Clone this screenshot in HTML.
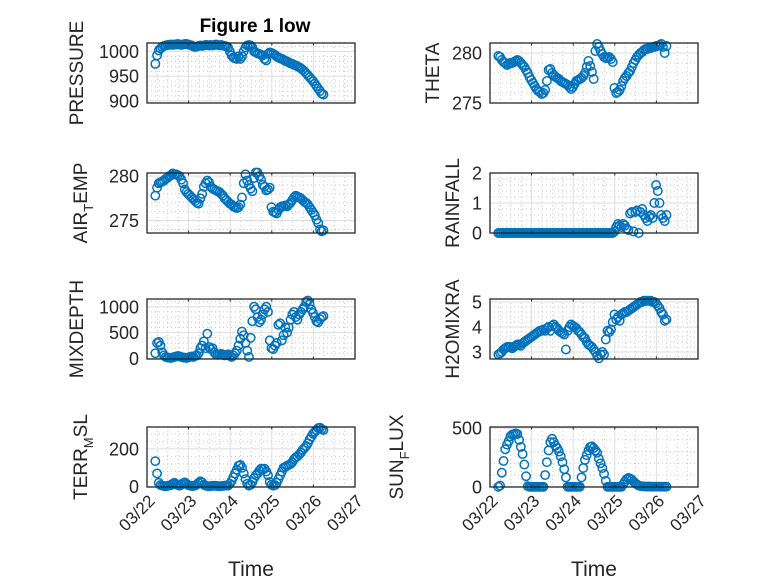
<!DOCTYPE html>
<html><head><meta charset="utf-8">
<style>
html,body{margin:0;padding:0;background:#fff;}
svg{display:block;font-family:"Liberation Sans","DejaVu Sans",sans-serif;}
</style></head>
<body>
<svg id="fig" width="778" height="583" viewBox="0 0 778 583" xmlns="http://www.w3.org/2000/svg">
<rect width="778" height="583" fill="#fff"/>
<text x="255" y="32" text-anchor="middle" font-size="19" font-weight="bold" fill="#000">Figure 1 low</text>
<text x="251" y="576" text-anchor="middle" font-size="21" fill="#262626">Time</text>
<text x="594" y="576" text-anchor="middle" font-size="21" fill="#262626">Time</text>
</svg>
<script>
const xTickLabels = ["03/22","03/23","03/24","03/25","03/26","03/27"];
const xTickValues = [22,23,24,25,26,27];
const tStart = 22.2;
const tStep = 1/24;

const pressure = [975,992,1002,1006,1009,
1011,1012,1013,1013,1014,1013,1014,1014,1015,1014,1013,1014,1015,1015,1014,1013,1012,1010,1009,1010,1011,1012,1011,1012,1013,1013,1012,1013,1012,1013,1014,1013,1012,1013,1012,1011,1010,1008,
1000,992,988,986,985,990,985,990,1000,1008,
1012,1013,1012,1008,
1000,998,996,995,993,992,985,982,
995,998,997,995,993,990,
988,986,985,983,981,980,978,976,975,973,972,970,968,966,963,960,956,952,948,944,940,935,930,925,920,915,913];

const airTemp = [277.8,278.7,279.2,279.3,279.4,279.5,279.7,279.8,280.0,280.1,280.3,280.2,280.2,280.1,280.0,279.6,279.2,278.5,278.2,278.0,
277.8,277.6,277.4,277.2,277.0,276.9,277.5,278.0,278.8,279.2,279.5,279.3,278.8,278.6,278.5,278.4,278.3,278.2,278.0,277.8,
277.5,277.3,277.1,276.9,276.8,276.6,276.5,276.4,276.5,276.8,277.6,279.2,280.2,279.5,279.0,278.6,278.3,279.8,280.4,280.4,
280.0,279.6,279.0,278.8,278.4,278.5,278.7,276.5,276.0,275.9,275.8,276.2,276.5,276.6,276.6,276.7,276.6,276.8,277.0,277.3,
277.6,277.8,277.7,277.6,277.5,277.3,277.1,277.0,276.8,276.5,276.2,275.9,275.6,275.1,274.7,274.0,273.8,273.9];

const mixDepth = [100,300,320,250,120,60,30,
20,15,10,20,30,40,50,40,30,20,15,10,20,30,40,
30,50,60,100,200,250,330,200,480,220,180,200,120,80,
70,80,90,70,60,70,80,50,
30,60,100,150,250,380,520,450,300,150,30,400,720,1000,950,800,700,750,850,950,1000,900,
350,200,180,250,300,650,680,350,450,600,500,600,750,850,900,800,750,850,900,950,1000,1100,1120,1050,950,880,800,720,700,760,800,820];

const terrMsl = [135,70,20,8,
5,3,2,4,6,8,15,20,12,8,5,10,18,22,15,8,5,3,4,6,12,20,28,22,10,5,3,2,3,4,5,4,3,2,3,4,5,6,5,15,
30,50,70,90,110,115,100,70,40,15,5,10,25,45,60,70,85,95,90,95,80,60,25,10,5,8,20,40,60,80,
100,105,110,115,120,130,145,155,160,170,180,195,205,215,230,250,265,280,290,300,310,312,305,300];

const theta = [279.7,279.6,279.3,279.1,279.0,278.8,278.9,279.0,279.0,279.1,279.2,279.3,279.2,279.0,278.8,278.6,278.3,278.0,277.6,277.3,
277.0,276.7,276.4,276.2,276.1,275.9,276.0,276.3,277.2,278.3,278.4,278.0,277.8,277.6,277.5,277.4,277.2,277.1,277.0,276.9,
276.8,276.6,276.4,276.6,276.9,277.2,277.3,277.4,277.5,277.7,278.0,278.6,279.2,278.7,278.1,277.4,280.2,280.9,280.6,280.2,
279.9,279.6,279.5,279.5,279.6,279.4,279.1,276.5,276.0,276.1,276.3,276.7,277.2,277.5,277.7,278.0,278.2,278.6,279.0,279.3,
279.6,279.8,280.0,280.1,280.3,280.4,280.4,280.5,280.5,280.6,280.6,280.7,280.7,280.8,280.9,280.6,280.0,280.7];

const rainfall = [0,0,0,0,0,0,0,0,0,0,0,0,0,0,0,0,0,0,0,0,
0,0,0,0,0,0,0,0,0,0,0,0,0,0,0,0,0,0,0,0,
0,0,0,0,0,0,0,0,0,0,0,0,0,0,0,0,0,0,0,0,
0,0,0,0,0,0,0,0.05,0.2,0.3,0.25,0.2,0.3,0.25,0.15,0.1,0.65,0.7,0.05,0.7,
0.75,0,0.7,0.8,0.6,0.5,0.4,0.55,0.6,0.5,1.0,1.6,1.4,1.0,0.6,0.5,0.4,0.6];

const h2oMixRatio = [2.9,2.95,3.0,3.1,3.15,3.2,3.2,3.2,3.15,3.2,3.25,3.3,3.3,3.25,3.35,3.4,3.45,3.5,3.55,3.6,
3.65,3.7,3.75,3.8,3.85,3.85,3.9,3.85,3.95,4.0,3.85,4.05,4.1,4.0,3.95,3.85,3.8,3.75,3.7,3.1,
3.85,4.0,4.1,4.05,4.0,3.95,3.85,3.8,3.7,3.6,3.55,3.4,3.3,3.25,3.2,3.1,3.0,2.85,2.75,2.9,
3.0,2.9,3.5,3.85,3.8,3.9,4.2,4.5,4.3,4.4,4.25,4.5,4.55,4.6,4.6,4.65,4.7,4.75,4.8,4.85,
4.9,4.95,5.0,5.0,5.05,5.05,5.05,5.05,5.05,5.0,5.0,4.95,4.85,4.75,4.6,4.5,4.25,4.3];

const sunFlux = [0,10,120,220,320,360,390,430,445,450,455,450,400,340,280,190,90,5,
0,0,0,0,0,0,0,0,0,
100,210,310,380,410,380,350,330,300,260,210,150,80,0,
0,0,0,0,0,0,0,
80,160,230,270,310,340,345,330,310,290,240,200,160,110,50,0,
0,0,0,0,0,0,0,0,
20,45,65,75,70,60,45,30,20,10,5,
5,3,2,2,2,1,1,1,1,1,1,1,1,1,1];

const panels = [
 {key:'pressure',data:pressure,label:['PRESSURE'],x0:147,y0:43,ymin:896,ymax:1017,ticks:[900,950,1000],minor:10,lx:76,bottom:false},
 {key:'theta',data:theta,label:['THETA'],x0:490,y0:43,ymin:275,ymax:281,ticks:[275,280],minor:1,lx:432,bottom:false},
 {key:'air-temp',data:airTemp,label:['AIR','T','EMP'],x0:147,y0:173,ymin:273.6,ymax:280.35,ticks:[275,280],minor:1,lx:80,bottom:false},
 {key:'rainfall',data:rainfall,label:['RAINFALL'],x0:490,y0:173,ymin:0,ymax:2,ticks:[0,1,2],minor:0.2,lx:452,bottom:false},
 {key:'mixdepth',data:mixDepth,label:['MIXDEPTH'],x0:147,y0:299,ymin:-10,ymax:1150,ticks:[0,500,1000],minor:100,lx:76,bottom:false},
 {key:'h2omixra',data:h2oMixRatio,label:['H2OMIXRA'],x0:490,y0:299,ymin:2.72,ymax:5.12,ticks:[3,4,5],minor:0.2,lx:452,bottom:false},
 {key:'terr-msl',data:terrMsl,label:['TERR','M','SL'],x0:147,y0:427,ymin:-2,ymax:316,ticks:[0,200],minor:40,lx:80,bottom:true},
 {key:'sun-flux',data:sunFlux,label:['SUN','F','LUX'],x0:490,y0:427,ymin:-2,ymax:510,ticks:[0,500],minor:100,lx:396,bottom:true}
];
const W=208,H=60;
const NS='http://www.w3.org/2000/svg';
const svg=document.getElementById('fig');
function mk(tag,attrs,parent){const e=document.createElementNS(NS,tag);for(const k in attrs)e.setAttribute(k,attrs[k]);(parent||svg).appendChild(e);return e;}

panels.forEach(p=>{
  const g=mk('g',{});
  
  
  const xs=v=>p.x0+(v-22)/(27-22)*W;
  const ys=v=>p.y0+H-(v-p.ymin)/(p.ymax-p.ymin)*H;
  mk('rect',{x:p.x0,y:p.y0,width:W,height:H,fill:'#fff'},g);
  for(let d=22;d<27;d+=0.25){ if(Math.abs(d-Math.round(d))<1e-6) continue;
    mk('line',{x1:xs(d),x2:xs(d),y1:p.y0,y2:p.y0+H,stroke:'#c8c8c8','stroke-width':1,'stroke-dasharray':'1,3'},g);}
  const s=Math.ceil(p.ymin/p.minor);
  for(let k=s;k*p.minor<=p.ymax;k++){const v=k*p.minor;
    if(p.ticks.some(t=>Math.abs(t-v)<1e-6))continue;
    mk('line',{x1:p.x0,x2:p.x0+W,y1:ys(v),y2:ys(v),stroke:'#c8c8c8','stroke-width':1,'stroke-dasharray':'1,3'},g);}
  xTickValues.forEach(d=>{mk('line',{x1:xs(d),x2:xs(d),y1:p.y0,y2:p.y0+H,stroke:'#dedede','stroke-width':1},g);});
  p.ticks.forEach(v=>{mk('line',{x1:p.x0,x2:p.x0+W,y1:ys(v),y2:ys(v),stroke:'#dedede','stroke-width':1},g);
    const t=mk('text',{x:p.x0-8,y:ys(v)+6.5,'text-anchor':'end','font-size':18,fill:'#262626'},g);
    t.textContent=String(v);
    
    
  });
  const pg=mk('g',{fill:'none',stroke:'#0072BD','stroke-width':1.5},g);
  
  
  p.data.forEach((v,i)=>{
    const c=mk('circle',{cx:xs(tStart+i*tStep),cy:ys(v),r:4.2},pg);
    
    
  });
  mk('rect',{x:p.x0,y:p.y0,width:W,height:H,fill:'none',stroke:'#262626','stroke-width':1.3},g);
  xTickValues.forEach(d=>{
    mk('line',{x1:xs(d),x2:xs(d),y1:p.y0+H,y2:p.y0+H-2.5,stroke:'#262626'},g);
    mk('line',{x1:xs(d),x2:xs(d),y1:p.y0,y2:p.y0+2.5,stroke:'#262626'},g);
  });
  const cy=p.y0+H/2;
  const lab=mk('text',{x:0,y:0,'text-anchor':'middle','font-size':19,fill:'#262626',transform:`translate(${p.lx+7},${cy}) rotate(-90)`},g);
  
  
  if(p.label.length===1){lab.textContent=p.label[0];}
  else{
    const a=mk('tspan',{},lab);a.textContent=p.label[0];
    const b=mk('tspan',{dy:6,'font-size':13},lab);b.textContent=p.label[1];
    const c=mk('tspan',{dy:-6},lab);c.textContent=p.label[2];
  }
  if(p.bottom){
    xTickValues.forEach((d,i)=>{
      const t=mk('text',{x:0,y:0,'text-anchor':'end','font-size':17,fill:'#262626',transform:`translate(${xs(d)+9},${p.y0+H+15}) rotate(-45)`},g);
      t.textContent=xTickLabels[i];
      
      
    });
  }
});
</script>
</body></html>
